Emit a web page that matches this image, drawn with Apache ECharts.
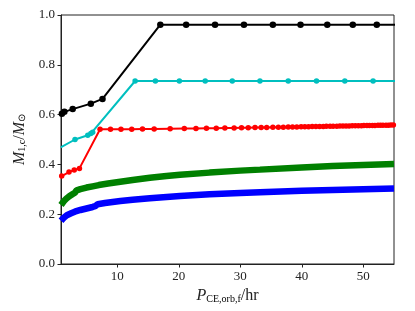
<!DOCTYPE html>
<html><head><meta charset="utf-8">
<script src="https://cdn.jsdelivr.net/npm/echarts@6/dist/echarts.min.js"></script>
<style>html,body{margin:0;padding:0;background:#fff}#c{width:415px;height:311px}</style>
</head><body><div id="c"></div>
<script>
// Black series
var blackX = [1.0, 1.4, 2.75, 5.7, 7.6, 17.0, 21.2, 25.9, 30.6, 35.3, 39.8, 44.15, 48.3, 52.2, 56.0];
var blackY = [0.603, 0.611, 0.622, 0.644, 0.663, 0.961, 0.961, 0.961, 0.961, 0.961, 0.961, 0.961, 0.961, 0.961, 0.961];
// Cyan series
var cyanX = [0.8, 3.13, 5.2, 5.7, 6.0, 12.9, 16.2, 20.1, 24.3, 28.7, 33.2, 37.8, 42.4, 47.0, 51.6, 56.2];
var cyanY = [0.468, 0.500, 0.517, 0.524, 0.529, 0.735, 0.735, 0.735, 0.735, 0.735, 0.735, 0.735, 0.735, 0.735, 0.735, 0.735];
// Red series
var redX = [0.96, 2.15, 3.0, 3.85, 7.2, 8.9, 10.6, 12.35, 14.1, 16.0, 18.6, 20.9, 22.8, 24.5, 26.1, 27.5, 29.0, 30.2, 31.3, 32.4, 33.4, 34.3, 35.3, 36.2, 37.0, 37.8, 38.5, 39.2, 39.9, 40.5, 41.1, 41.7, 42.3, 42.9, 43.5, 44.0, 44.6, 45.1, 45.7, 46.2, 46.7, 47.2, 47.7, 48.2, 48.7, 49.2, 49.7, 50.1, 50.6, 51.0, 51.5, 51.9, 52.4, 52.8, 53.2, 53.7, 54.1, 54.5, 54.9];
var redY = [0.353, 0.369, 0.378, 0.384, 0.541, 0.541, 0.541, 0.541, 0.542, 0.542, 0.543, 0.544, 0.544, 0.545, 0.545, 0.546, 0.546, 0.547, 0.547, 0.548, 0.548, 0.548, 0.549, 0.549, 0.549, 0.550, 0.550, 0.550, 0.551, 0.551, 0.551, 0.552, 0.552, 0.552, 0.552, 0.553, 0.553, 0.553, 0.553, 0.554, 0.554, 0.554, 0.554, 0.555, 0.555, 0.555, 0.555, 0.556, 0.556, 0.556, 0.556, 0.556, 0.557, 0.557, 0.557, 0.557, 0.557, 0.558, 0.558];
// Green series (dense band)
var greenX = [0.85, 1.3, 1.7, 2.2, 2.7, 3.1, 3.4, 4.0, 5.0, 6.0, 7.0, 8.5, 10.5, 12.5, 15.3, 18.0, 20.2, 25.0, 30.0, 33.2, 40.0, 45.0, 50.0, 55.0];
var greenY = [0.237, 0.252, 0.262, 0.272, 0.280, 0.286, 0.296, 0.301, 0.307, 0.312, 0.317, 0.323, 0.330, 0.337, 0.346, 0.353, 0.358, 0.367, 0.375, 0.379, 0.388, 0.394, 0.398, 0.402];
// Blue series (dense band)
var blueX = [0.85, 1.3, 1.8, 2.5, 3.1, 4.0, 5.0, 6.0, 6.4, 6.8, 8.0, 10.5, 12.5, 15.3, 20.2, 25.0, 30.0, 33.2, 40.0, 45.0, 50.0, 55.0];
var blueY = [0.174, 0.186, 0.196, 0.204, 0.210, 0.217, 0.223, 0.229, 0.232, 0.240, 0.245, 0.253, 0.258, 0.264, 0.273, 0.280, 0.285, 0.288, 0.294, 0.297, 0.300, 0.303];
// Tick labels
var xTicks = [10, 20, 30, 40, 50];
var yTicks = [0.0, 0.2, 0.4, 0.6, 0.8, 1.0];

function pairs(xs, ys){ return xs.map(function(x,i){ return [x, ys[i]]; }); }

var FONT = 'Liberation Serif';
var chart = echarts.init(document.getElementById('c'), null, {renderer:'canvas'});
var subStyle = {fontFamily: FONT, fontSize: 10, color:'#000', verticalAlign:'bottom', padding:[7,0,0,0]};
chart.setOption({
  animation: false,
  grid: {left: 61, right: 21, top: 15, bottom: 47, show: true, borderColor: '#222', borderWidth: 1, containLabel: false},
  xAxis: {
    type: 'value', min: 0.85, max: 55,
    splitLine: {show: false},
    axisLine: {onZero: false, lineStyle: {color: '#222', width: 1}},
    axisTick: {length: 3.5, lineStyle: {color: '#222'}, customValues: xTicks},
    axisLabel: {customValues: xTicks, fontFamily: FONT, fontSize: 13, color: '#222', margin: 6},
    name: '{i|P}{s|CE,orb,f}{n|/hr}',
    nameLocation: 'middle', nameGap: 22,
    nameTextStyle: {rich: {
      i: {fontFamily: FONT, fontStyle: 'italic', fontSize: 16, color:'#222'},
      s: subStyle,
      n: {fontFamily: FONT, fontSize: 16, color:'#222'}
    }}
  },
  yAxis: {
    type: 'value', min: 0, max: 1, interval: 0.2,
    splitLine: {show: false},
    axisLine: {lineStyle: {color: '#222', width: 1}},
    axisTick: {length: 3.5, lineStyle: {color: '#222'}},
    axisLabel: {fontFamily: FONT, fontSize: 13, color: '#222', margin: 6,
      formatter: function(v){ var k = yTicks.indexOf(Math.round(v*10)/10); return k>=0 ? yTicks[k].toFixed(1) : ''; }},
    name: '{i|M}{s|1,c}{n|/}{i|M}{s|⊙}',
    nameLocation: 'middle', nameGap: 32, nameRotate: 90,
    nameTextStyle: {rich: {
      i: {fontFamily: FONT, fontStyle: 'italic', fontSize: 16, color:'#222'},
      s: subStyle,
      n: {fontFamily: FONT, fontSize: 16, color:'#222'}
    }}
  },
  series: [
    {type:'line', data: pairs(blueX, blueY), showSymbol:false, symbol:'none', lineStyle:{color:'#0000ff', width:6.5}, clip:true, z:2},
    {type:'line', data: pairs(greenX, greenY), showSymbol:false, symbol:'none', lineStyle:{color:'#008000', width:6.5}, clip:true, z:2},
    {type:'line', data: pairs(redX, redY), symbol:'circle', symbolSize:5.5, itemStyle:{color:'#ff0000'}, lineStyle:{color:'#ff0000', width:2}, clip:true, z:3},
    {type:'line', data: pairs(cyanX, cyanY), symbol:'circle', symbolSize:5.5, itemStyle:{color:'#00bfbf'}, lineStyle:{color:'#00bfbf', width:2}, clip:true, z:3},
    {type:'line', data: pairs(blackX, blackY), symbol:'circle', symbolSize:6.5, itemStyle:{color:'#000'}, lineStyle:{color:'#000', width:2}, clip:true, z:3}
  ]
});
</script></body></html>
